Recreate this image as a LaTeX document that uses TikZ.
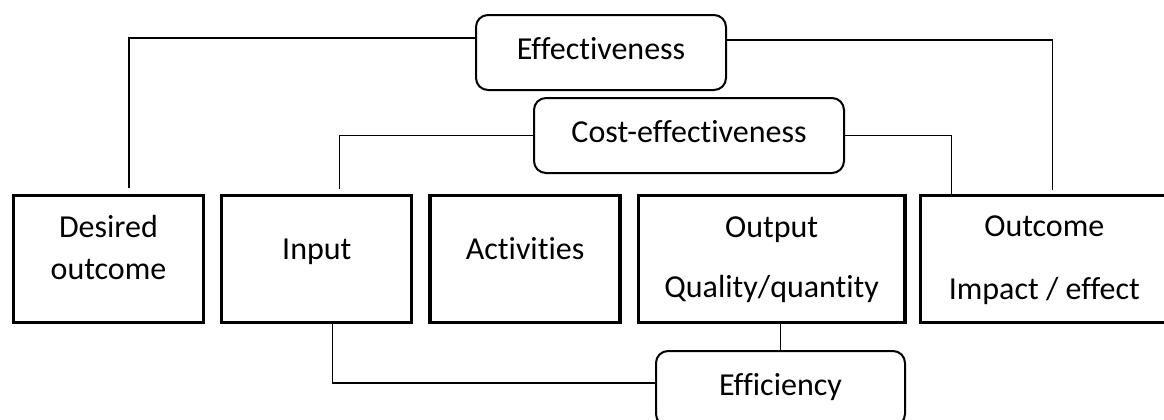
\documentclass[tikz,border=0pt]{standalone}
\usepackage{fontspec}
\setmainfont{Carlito}[Ligatures=NoCommon]
\usepackage{tikz}
\usetikzlibrary{positioning,calc}

\begin{document}
\begin{tikzpicture}[%
            x=0.5pt,
            y=-0.5pt,
            line width=0.6pt,
            font=\fontsize{16}{21}\selectfont,
            stage/.style={%
            	rectangle,
            	line width=1.65pt,
            	minimum width=95pt,
            	minimum height=63.5pt,
            	inner sep=0pt,
            	align=center,
            	text height=8pt,
            	text depth=8pt,
            	draw
            },
            twoline/.style={%
            	text height=#1,
            	text depth=3.5pt
            },
            measure/.style={%
            	rectangle,
            	rounded corners=6pt,
            	line width=1pt,
            	minimum width=125pt,
            	minimum height=37.5pt,
            	inner sep=0pt,
            	align=center,
            	text height=11pt,
            	text depth=4.5pt,
            	draw
            }
            ]
            \useasboundingbox (0,0) rectangle (1164,419);
            \node[stage,twoline=23.5pt] (1) at (108.5,259)       {Desired\\outcome};
            \node[stage] (2) [right=7.5pt of 1]                  {Input};
            \node[stage] (3) [right=7.5pt of 2]                  {Activities};
            \node[stage,twoline=42pt,minimum width=133.3pt] (4) [right=7.5pt of 3] {Output\\[9pt]Quality/quantity};
            \node[stage,twoline=44pt,minimum width=124pt] (5) [right=6pt of 4] {Outcome\\[10.5pt]Impact / effect};
            \node[measure] (6) at (601,52.5)                     {Effectiveness};
            \node[measure,minimum width=155pt] (7) at (689,135.5) {Cost-effectiveness};
            \node[measure,minimum width=124.5pt] (8) at (780.5,388.5) {Efficiency};

            \draw[shorten >=3pt] ($(6.west)+(0,-14.5)$) -| ($(1.north)+(20.5,0)$);
            \draw[shorten >=2pt] ($(6.east)+(0,-12.5)$) -| ($(5.north)+(8.3,0)$);
            \draw[shorten >=2.5pt] (7.west) -| ($(2.north)+(22.4,0)$);
            \draw (7.east) -| ($(5.north)+(-92.7,0)$);
            \draw ($(2.south)+(15.4,0)$) |- ($(8.west)+(0,-5.5)$);
            \draw (8.north) -- (8.north |- 4.south);
\end{tikzpicture}
\end{document}
